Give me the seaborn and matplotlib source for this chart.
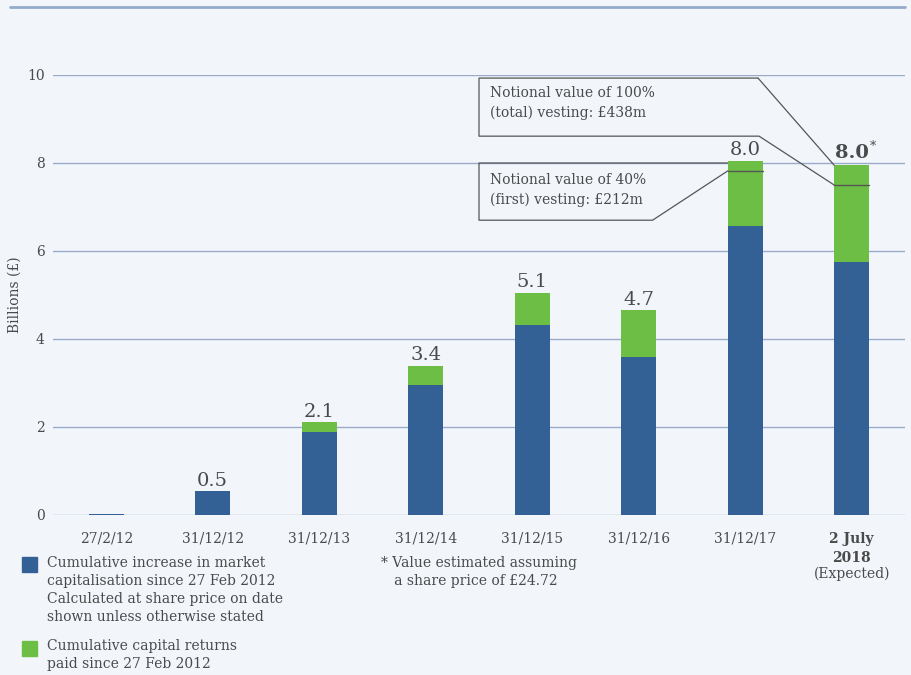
import matplotlib
matplotlib.use("Agg")
import matplotlib.pyplot as plt
import seaborn as sns
import pandas as pd
from matplotlib.patches import Rectangle
from matplotlib.lines import Line2D

categories = ['27/2/12', '31/12/12', '31/12/13', '31/12/14', '31/12/15',
              '31/12/16', '31/12/17', '2 July\n2018']
market_cap = [0.03, 0.54, 1.89, 2.95, 4.32, 3.59, 6.57, 5.75]
capital_returns = [0.0, 0.0, 0.22, 0.44, 0.73, 1.07, 1.48, 2.20]
value_labels = ['', '0.5', '2.1', '3.4', '5.1', '4.7', '8.0', '8.0']
vesting_40 = 7.82   # level in 31/12/17 bar
vesting_100 = 7.50  # level in 2 July 2018 bar
yticks = [0, 2, 4, 6, 8, 10]

BLUE = '#336195'
GREEN = '#6DBE45'
BG = '#F2F6FB'
GRID = '#9AAACB'
TXT = '#4A4A4A'

sns.set_theme(style='white')
plt.rcParams['font.family'] = ['DejaVu Serif', 'DejaVu Sans']

df = pd.DataFrame({'cat': categories, 'blue': market_cap,
                   'total': [b + g for b, g in zip(market_cap, capital_returns)]})

fig = plt.figure(figsize=(9.12, 6.75), dpi=100, facecolor=BG)
ax = fig.add_axes([53/912, 1 - 515/675, 852/912, 440/675])
ax.set_facecolor(BG)

sns.barplot(data=df, x='cat', y='total', color=GREEN, width=0.33,
            saturation=1, ax=ax, order=categories, zorder=3, linewidth=0)
sns.barplot(data=df, x='cat', y='blue', color=BLUE, width=0.33,
            saturation=1, ax=ax, order=categories, zorder=4, linewidth=0)

ax.set_xlim(-0.5, 7.5)
ax.set_ylim(0, 10)
ax.set_yticks(yticks)
ax.set_yticklabels([str(t) for t in yticks], fontsize=10, color=TXT)
for t in yticks:
    ax.axhline(t, color=GRID, lw=1, zorder=1)
for s in ax.spines.values():
    s.set_visible(False)
ax.tick_params(axis='y', length=0, pad=6)
ax.tick_params(axis='x', length=0, pad=12)
ax.set_xlabel('')
ax.set_ylabel('Billions (£)', fontsize=10, color=TXT)
ax.yaxis.set_label_coords(-(53 - 22) / 852, 0.5)

ax.set_xticks(range(len(categories)))
ax.set_xticklabels(categories, fontsize=10, color=TXT, va='top', linespacing=1.5)
ax.get_xticklabels()[-1].set_fontweight('bold')
ax.annotate('(Expected)', xy=(7, 0), xycoords='data', xytext=(0, -42.5),
            textcoords='offset points', ha='center', va='center',
            fontsize=10, color=TXT)

# value labels
for i, lab in enumerate(value_labels):
    if not lab:
        continue
    tot = df['total'][i]
    if i == len(categories) - 1:
        ax.annotate(lab, xy=(i, tot), xytext=(0, 2), textcoords='offset points',
                    ha='center', va='bottom', fontsize=14, fontweight='bold',
                    color=TXT, zorder=6)
        ax.annotate('*', xy=(i, tot), xytext=(13, 9), textcoords='offset points',
                    ha='left', va='bottom', fontsize=9, color=TXT, zorder=6)
    else:
        ax.annotate(lab, xy=(i, tot), xytext=(0, 1), textcoords='offset points',
                    ha='center', va='bottom', fontsize=14, color=TXT, zorder=6)

# vesting lines inside bars
hw = 0.165
LC = '#555555'
ax.plot([6 - hw, 6 + hw], [vesting_40, vesting_40], color=LC, lw=1, zorder=5)
ax.plot([7 - hw, 7 + hw], [vesting_100, vesting_100], color=LC, lw=1, zorder=5)

# callout box 1 (100%)
x0 = 3.50
ax.plot([6.12, x0, x0, 6.13, 7 - hw], [9.93, 9.93, 8.61, 8.61, vesting_100],
        color=LC, lw=0.9, zorder=5, clip_on=False)
ax.plot([6.12, 7 - hw], [9.93, df['total'][7]], color=LC, lw=0.9, zorder=5, clip_on=False)
ax.text(x0 + 0.1, 9.59, 'Notional value of 100%', fontsize=10, color=TXT,
        va='center', ha='left', zorder=6)
ax.text(x0 + 0.1, 9.14, '(total) vesting: £438m', fontsize=10, color=TXT,
        va='center', ha='left', zorder=6)

# callout box 2 (40%)
ax.plot([6 - hw, x0, x0, 5.13, 6 - hw], [8.0, 8.0, 6.70, 6.70, vesting_40],
        color=LC, lw=0.9, zorder=2, clip_on=False)
ax.text(x0 + 0.1, 7.61, 'Notional value of 40%', fontsize=10, color=TXT,
        va='center', ha='left', zorder=6)
ax.text(x0 + 0.1, 7.16, '(first) vesting: £212m', fontsize=10, color=TXT,
        va='center', ha='left', zorder=6)

# top rule
fig.add_artist(Line2D([10/912, 905/912], [1 - 7/675, 1 - 7/675],
                      color='#94ABCB', lw=2))

# legend
def fx(px):
    return px / 912
def fy(py):
    return 1 - py / 675

fig.add_artist(Rectangle((fx(22), fy(572)), 15/912, 15/675, color=BLUE))
fig.text(fx(47), fy(556), 'Cumulative increase in market\ncapitalisation since 27 Feb 2012\n'
         'Calculated at share price on date\nshown unless otherwise stated',
         fontsize=10, color=TXT, va='top', ha='left', linespacing=1.35)
fig.add_artist(Rectangle((fx(22), fy(656)), 15/912, 15/675, color=GREEN))
fig.text(fx(47), fy(639), 'Cumulative capital returns\npaid since 27 Feb 2012',
         fontsize=10, color=TXT, va='top', ha='left', linespacing=1.35)
fig.text(fx(381), fy(556), '* Value estimated assuming\n   a share price of £24.72',
         fontsize=10, color=TXT, va='top', ha='left', linespacing=1.35)

fig.savefig('out.png', dpi=100, facecolor=BG)
